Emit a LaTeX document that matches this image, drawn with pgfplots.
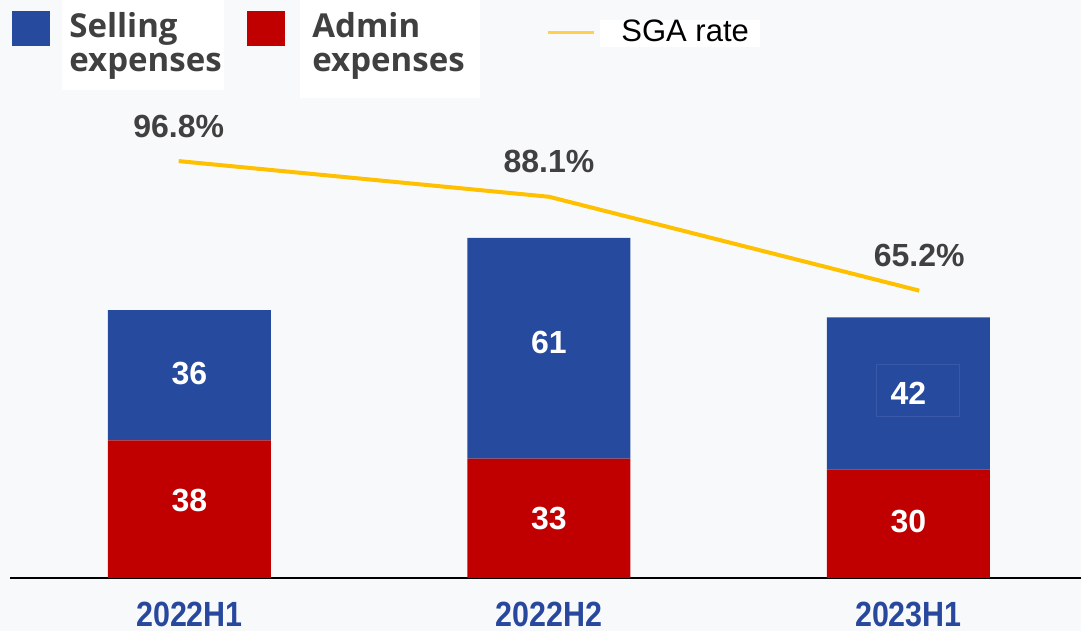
\documentclass[border=0pt]{standalone}
\usepackage{pgfplots}
\pgfplotsset{compat=1.18}
\usepackage{fontspec}
\setmainfont{Liberation Sans}
\newfontfamily\legfont{Open Sans}
\newfontfamily\tickfont[FakeStretch=0.87]{Liberation Sans}
\definecolor{selblue}{RGB}{38,74,158}
\definecolor{admred}{RGB}{192,0,0}
\definecolor{sgayel}{RGB}{255,192,0}
\definecolor{legyel}{RGB}{255,208,80}
\definecolor{txtgray}{RGB}{64,64,64}
\definecolor{bgc}{RGB}{248,249,251}
\definecolor{tickblue}{RGB}{40,72,158}
\definecolor{boxblue}{RGB}{58,88,165}
\begin{document}
\begin{tikzpicture}
\fill[bgc] (0pt,0pt) rectangle (540.5pt,315.5pt);
\useasboundingbox (0pt,0pt) rectangle (540.5pt,315.5pt);
\fill[white] (31pt,270.5pt) rectangle (112pt,315.5pt);
\fill[white] (150pt,266.5pt) rectangle (240pt,315.5pt);
\fill[white] (300pt,292pt) rectangle (380pt,305.5pt);
\begin{axis}[
  at={(5pt,26.5pt)}, anchor=south west,
  scale only axis, width=535.5pt, height=289pt,
  xmin=-0.4993, xmax=2.48, ymin=0, ymax=159.7,
  axis x line=bottom, axis y line=none,
  x axis line style={black, line width=1pt, -},
  xtick={0,1,2}, xticklabels={2022H1,2022H2,2023H1},
  major tick length=0pt, ytick=\empty,
  xticklabel style={font=\tickfont\bfseries\fontsize{17.5}{17.5}\selectfont, text=tickblue, yshift=-8.5pt},
  ybar stacked, bar width=0.4534,
  clip=false,
]
\addplot[fill=admred, draw=none] coordinates {(0,38) (1,33) (2,30)};
\addplot[fill=selblue, draw=none] coordinates {(0,36) (1,61) (2,42)};
\end{axis}
% segment labels
\begin{axis}[
  at={(5pt,26.5pt)}, anchor=south west,
  scale only axis, width=535.5pt, height=289pt,
  xmin=-0.4993, xmax=2.48, ymin=0, ymax=159.7,
  hide axis, clip=false,
]
\addplot[draw=none, mark=none, point meta=explicit symbolic,
  nodes near coords,
  every node near coord/.style={anchor=center, font=\bfseries\fontsize{16}{16}\selectfont, text=white}]
  coordinates {(0,21.5) [38] (1,16.5) [33] (2,15.5) [30] (0,56.5) [36] (1,65) [61] (2,51) [42]};
\end{axis}
\draw[boxblue, line width=0.5pt] (438pt,107pt) rectangle (479.5pt,133pt);
\begin{axis}[
  at={(5pt,26.5pt)}, anchor=south west,
  scale only axis, width=535.5pt, height=289pt,
  xmin=-0.4993, xmax=2.48, ymin=-4.9, ymax=136.1,
  hide axis, clip=false,
]
\addplot[sgayel, line width=2pt, line join=round,
  nodes near coords={\pgfmathprintnumber[fixed,fixed zerofill,precision=1,assume math mode=true]{\pgfplotspointmeta}\%},
  every node near coord/.style={anchor=center, yshift=17.5pt, font=\bfseries\fontsize{16}{16}\selectfont, text=txtgray}]
  coordinates {(-0.03,96.8) (1,88.1) (2.03,65.2)};
\end{axis}
\fill[selblue] (6pt,292.5pt) rectangle (25pt,310pt);
\fill[admred] (123.5pt,292.5pt) rectangle (142.5pt,310pt);
\tikzset{leglab/.style={anchor=base west, inner sep=0pt, font=\legfont\bfseries\fontsize{16.5}{17}\selectfont, text=txtgray}}
\node[leglab] at (34.5pt,296.5pt) {Selling};
\node[leglab] at (34.5pt,279.5pt) {expenses};
\node[leglab] at (156pt,296.5pt) {Admin};
\node[leglab] at (156pt,279.5pt) {expenses};
\draw[legyel, line width=1.5pt] (274pt,299pt) -- (297pt,299pt);
\node[anchor=base west, inner sep=0pt, font=\fontsize{15.5}{15.5}\selectfont, text=black] at (310.5pt,294.5pt) {SGA rate};
\end{tikzpicture}
\end{document}
